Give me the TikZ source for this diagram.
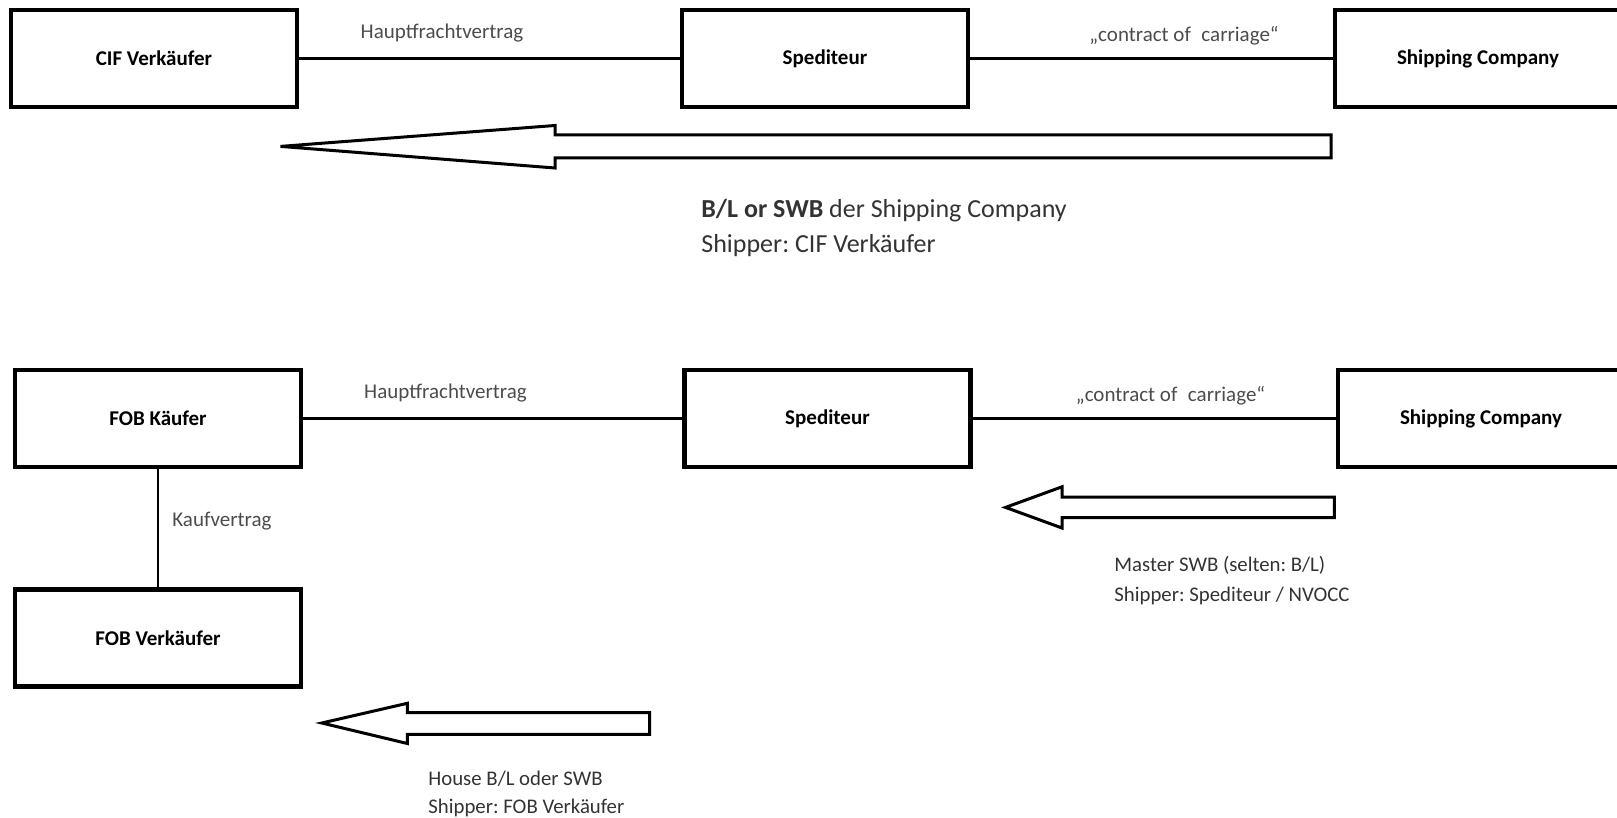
\documentclass[tikz,border=0pt]{standalone}
\usepackage{fontspec}
\setmainfont{Carlito}
\frenchspacing
\definecolor{lbl}{gray}{0.3}
\begin{document}
\begin{tikzpicture}[x=0.5pt,y=-0.5pt,
  box/.style={draw, line width=2.1pt, minimum width=143pt, minimum height=48.5pt, inner sep=0pt,
    font=\bfseries\fontsize{10.5}{12}\selectfont},
  conn/.style={draw, line width=1.4pt},
  blockarrow/.style={draw, line width=1.5pt, line join=miter, fill=white},
  lbl/.style={text=lbl, font=\fontsize{10.5}{12}\selectfont, inner sep=0pt},
  doc/.style={text=black!80, font=\fontsize{10.4}{12}\selectfont, inner sep=0pt, anchor=west},
  bigdoc/.style={text=black!80, font=\fontsize{13}{15}\selectfont, inner sep=0pt, anchor=west}]
\useasboundingbox (0,0) rectangle (1617,818);
% top row
\node[box] (cif) at (154,58.5) {CIF Verkäufer};
\node[box] (sp1) at (825,58.5) {Spediteur};
\node[box] (sc1) at (1478,58.5) {Shipping Company};
\draw[conn] (cif) -- (sp1);
\draw[conn] (sp1) -- (sc1);
\node[lbl] (l1) at (442,33) {Hauptfrachtvertrag};
\node[lbl] (l2) at (1184,36) {„contract of\hspace{0.5em}carriage“};
\draw[blockarrow] (1331,135) -- (555,135) -- (555,125.5) -- (280.5,146.4) -- (555,168) -- (555,157.8) -- (1331,157.8) -- cycle;
\node[bigdoc] (d1) at (701,211) {\textbf{B/L or SWB} der Shipping Company};
\node[bigdoc] (d2) at (701,246) {Shipper: CIF Verkäufer};
% bottom row
\node[box] (fk) at (158,418.5) {FOB Käufer};
\node[box] (sp2) at (827.5,418.5) {Spediteur};
\node[box] (sc2) at (1481,418.5) {Shipping Company};
\node[box] (fv) at (158,638) {FOB Verkäufer};
\draw[conn] (fk) -- (sp2);
\draw[conn] (sp2) -- (sc2);
\draw[conn] (fk) -- (fv);
\node[lbl] (l3) at (445.5,393) {Hauptfrachtvertrag};
\node[lbl] (l4) at (1170.5,396) {„contract of\hspace{0.5em}carriage“};
\node[lbl, anchor=west] (l5) at (172,521) {Kaufvertrag};
\draw[blockarrow] (1334.4,497) -- (1062,497) -- (1062,486.8) -- (1005.5,507.4) -- (1062,528) -- (1062,517.7) -- (1334.4,517.7) -- cycle;
\node[doc] (d3) at (1114,565.5) {Master SWB (selten: B/L)};
\node[doc] (d4) at (1114,595.5) {Shipper: Spediteur / NVOCC};
\draw[blockarrow] (649.7,712.6) -- (407.3,712.6) -- (407.3,703.3) -- (321.8,723) -- (407.3,743.5) -- (407.3,734.3) -- (649.7,734.3) -- cycle;
\node[doc] (d5) at (428,778.6) {House B/L oder SWB};
\node[doc] (d6) at (428,807.5) {Shipper: FOB Verkäufer};
\end{tikzpicture}
\end{document}
